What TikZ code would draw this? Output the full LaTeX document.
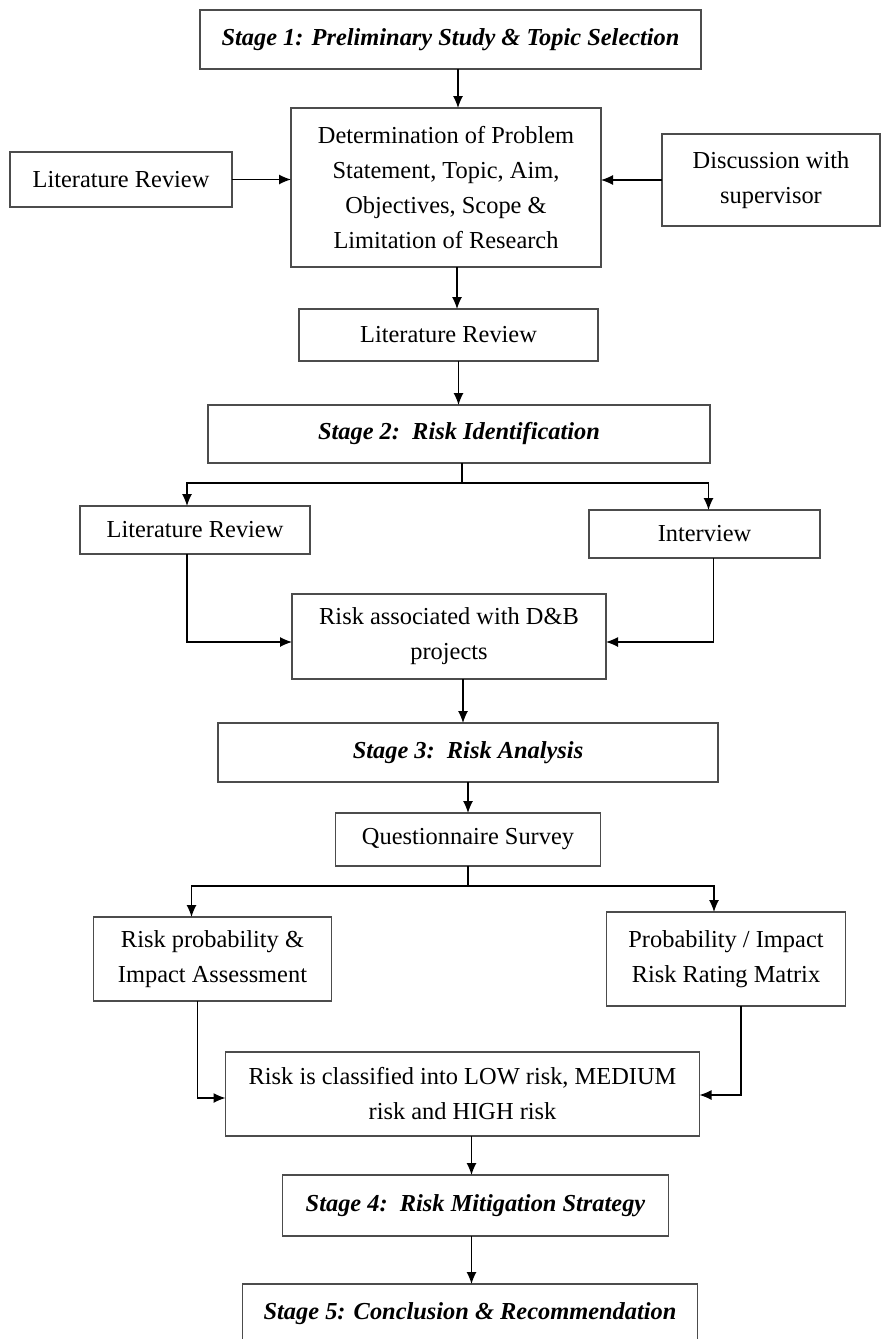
\documentclass[tikz,border=0pt]{standalone}
\usepackage{fontspec}
\setmainfont{Liberation Serif}
\usetikzlibrary{positioning,arrows.meta}

\tikzset{
	box/.style={draw=black!70, line width=0.7pt, align=center, inner sep=2pt, outer sep=0pt, font=\fontsize{12.2}{17.5}\selectfont},
	stage/.style={box, font=\fontsize{12.2}{17.5}\selectfont\bfseries\itshape},
	arr/.style={-{Latex[length=6pt,width=5pt]}, line width=0.6pt},
}

\begin{document}
\begin{tikzpicture}
	\useasboundingbox (0,0) rectangle (441pt,-669.5pt);
	\node[stage, minimum width=250.5pt, minimum height=29.5pt] (s1) at (225.25pt,-19.75pt) {Stage 1: Preliminary Study \& Topic Selection};
	\node[box, minimum width=155pt, minimum height=79.5pt, below=19.5pt of s1, xshift=-2.25pt] (det) {Determination of Problem\\Statement, Topic, Aim,\\Objectives, Scope \&\\Limitation of Research};
	\node[box, minimum width=111pt, minimum height=27.5pt, left=29.5pt of det, yshift=4pt] (lit1) {Literature Review};
	\node[box, minimum width=109pt, minimum height=46pt, right=30.5pt of det, yshift=3.75pt] (disc) {Discussion with\\supervisor};
	\node[box, minimum width=149.5pt, minimum height=26pt, below=21pt of det, xshift=1.25pt] (lit2) {Literature Review};
	\node[stage, minimum width=251pt, minimum height=29pt, below=22pt of lit2, xshift=5.25pt] (s2) {Stage 2:\ \ Risk Identification};
	\node[box, minimum width=115pt, minimum height=24pt, below=21.5pt of s2, xshift=-132pt] (lit3) {Literature Review};
	\node[box, minimum width=115.5pt, minimum height=24pt, below=23.5pt of s2, xshift=122.75pt] (inter) {Interview};
	\node[box, minimum width=157pt, minimum height=42.5pt, below=65.5pt of s2, xshift=-5pt] (assoc) {Risk associated with D\&B\\projects};
	\node[stage, minimum width=250pt, minimum height=29.5pt, below=22pt of assoc, xshift=9.5pt] (s3) {Stage 3:\ \ Risk Analysis};
	\node[box, minimum width=132.5pt, minimum height=26.5pt, below=15.5pt of s3] (quest) {Questionnaire Survey};
	\node[box, minimum width=119pt, minimum height=42pt, below=25.5pt of quest, xshift=-127.75pt] (prob) {Risk probability \&\\Impact Assessment};
	\node[box, minimum width=119.5pt, minimum height=47pt, below=23pt of quest, xshift=129pt] (matrix) {Probability / Impact\\Risk Rating Matrix};
	\node[box, minimum width=237pt, minimum height=42pt, below=93pt of quest, xshift=-2.75pt] (cls) {Risk is classified into LOW risk, MEDIUM\\risk and HIGH risk};
	\node[stage, minimum width=193pt, minimum height=30.5pt, below=19.5pt of cls, xshift=6.5pt] (s4) {Stage 4:\ \ Risk Mitigation Strategy};
	\node[stage, minimum width=227.5pt, minimum height=30pt, below=24pt of s4, xshift=-2.75pt] (s5) {Stage 5: Conclusion \& Recommendation};

	\draw[arr] ([xshift=6pt]det.north |- s1.south) -- ([xshift=6pt]det.north);
	\draw[arr] (lit1.east) -- (lit1.east -| det.west);
	\draw[arr] (disc.west) -- (disc.west -| det.east);
	\draw[arr] ([xshift=5.5pt]det.south) -- ([xshift=5.5pt]det.south |- lit2.north);
	\draw[arr] ([xshift=5pt]lit2.south) -- ([xshift=5pt]lit2.south |- s2.north);
	\draw[line width=0.6pt] ([xshift=1.5pt]s2.south) -- ++(0,-10pt) coordinate (fork2);
	\draw[arr] (fork2) -| ([xshift=-4pt]lit3.north);
	\draw[arr] (fork2) -| ([xshift=2pt]inter.north);
	\draw[arr] ([xshift=-4pt]lit3.south) |- ([yshift=-2.75pt]assoc.west);
	\draw[arr] ([xshift=4.5pt]inter.south) |- ([yshift=-2.75pt]assoc.east);
	\draw[arr] ([xshift=7pt]assoc.south) -- ([xshift=7pt]assoc.south |- s3.north);
	\draw[arr] (quest.north |- s3.south) -- (quest.north);
	\draw[line width=0.6pt] (quest.south) -- ++(0,-10pt) coordinate (fork3);
	\draw[arr] (fork3) -| ([xshift=-10.5pt]prob.north);
	\draw[arr] (fork3) -| ([xshift=-6pt]matrix.north);
	\draw[arr] ([xshift=-7.5pt]prob.south) |- ([yshift=-2pt]cls.west);
	\draw[arr] ([xshift=7.5pt]matrix.south) |- ([yshift=-0.5pt]cls.east);
	\draw[arr] ([xshift=4.5pt]cls.south) -- ([xshift=4.5pt]cls.south |- s4.north);
	\draw[arr] ([xshift=-2pt]s4.south) -- ([xshift=-2pt]s4.south |- s5.north);
\end{tikzpicture}
\end{document}
